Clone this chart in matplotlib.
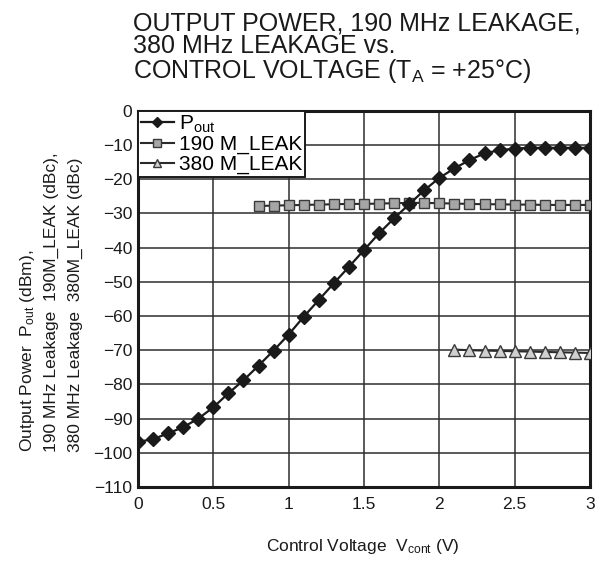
import matplotlib.pyplot as plt

plt.rcParams['font.family'] = ['Liberation Sans', 'DejaVu Sans']
plt.rcParams['mathtext.fontset'] = 'custom'
plt.rcParams['mathtext.rm'] = 'Liberation Sans'
plt.rcParams['mathtext.it'] = 'Liberation Sans'

# Output power vs control voltage (0 .. 3 V, 0.1 V steps)
v_pout = [0.0, 0.1, 0.2, 0.3, 0.4, 0.5, 0.6, 0.7, 0.8, 0.9, 1.0,
          1.1, 1.2, 1.3, 1.4, 1.5, 1.6, 1.7, 1.8, 1.9, 2.0,
          2.1, 2.2, 2.3, 2.4, 2.5, 2.6, 2.7, 2.8, 2.9, 3.0]
pout = [-96.8, -96.0, -94.3, -92.5, -90.0, -86.7, -82.6, -78.8, -74.5, -70.1, -65.4,
        -60.2, -55.3, -50.4, -45.6, -40.7, -35.8, -31.4, -27.3, -23.2, -19.6,
        -16.8, -14.4, -12.4, -11.5, -11.0, -10.8, -10.8, -10.8, -10.8, -10.8]

# 190 MHz leakage (0.8 .. 3 V)
v_190 = [0.8, 0.9, 1.0, 1.1, 1.2, 1.3, 1.4, 1.5, 1.6, 1.7, 1.8, 1.9,
         2.0, 2.1, 2.2, 2.3, 2.4, 2.5, 2.6, 2.7, 2.8, 2.9, 3.0]
leak_190 = [-27.8, -27.7, -27.6, -27.5, -27.4, -27.3, -27.2, -27.2, -27.1, -27.0, -26.9, -26.9,
            -27.0, -27.1, -27.2, -27.3, -27.3, -27.4, -27.4, -27.5, -27.5, -27.5, -27.5]

# 380 MHz leakage (2.1 .. 3 V)
v_380 = [2.1, 2.2, 2.3, 2.4, 2.5, 2.6, 2.7, 2.8, 2.9, 3.0]
leak_380 = [-69.8, -70.0, -70.1, -70.2, -70.3, -70.4, -70.5, -70.6, -70.7, -70.8]

x_ticks = [0, 0.5, 1, 1.5, 2, 2.5, 3]
x_labels = ['0', '0.5', '1', '1.5', '2', '2.5', '3']
y_ticks = [0, -10, -20, -30, -40, -50, -60, -70, -80, -90, -100, -110]

fig = plt.figure(figsize=(6.0, 5.63), dpi=100)
ax = fig.add_axes([0.23, 0.135, 0.7533, 0.668])

ax.plot(v_pout, pout, color='#1a1a1a', lw=1.6, marker='D', ms=7,
        mfc='#1a1a1a', mec='#1a1a1a', label=r'P$_{\mathregular{out}}$', zorder=4)
ax.plot(v_190, leak_190, color='#2a2a2a', lw=1.5, marker='s', ms=7.5,
        mfc='#a6a6a6', mec='#3a3a3a', mew=1.0, label='190 M_LEAK', zorder=3)
ax.plot(v_380, leak_380, color='#2a2a2a', lw=1.5, marker='^', ms=8,
        mfc='#cfcfcf', mec='#3a3a3a', mew=1.0, label='380 M_LEAK', zorder=3)

ax.set_xlim(0, 3)
ax.set_ylim(-110, 0)
ax.set_xticks(x_ticks)
ax.set_xticklabels(x_labels)
ax.set_yticks(y_ticks)
ax.set_yticklabels([str(t).replace('-', '\u2212') for t in y_ticks])
ax.tick_params(length=0, labelsize=12.5, pad=4, colors='#1a1a1a')
ax.tick_params(axis='x', pad=7)

ax.grid(True, color='#2e2e2e', lw=1.1)
ax.set_axisbelow(True)
for s in ax.spines.values():
    s.set_linewidth(2.2)
    s.set_color('#1a1a1a')

leg = ax.legend(loc='upper left', fontsize=15, frameon=True, fancybox=False,
                borderaxespad=0, borderpad=0.12, labelspacing=0.02,
                handlelength=1.6, handletextpad=0.25, markerscale=0.72)
leg.get_frame().set_edgecolor('#1a1a1a')
leg.get_frame().set_linewidth(1.4)
leg.get_frame().set_alpha(1)

# title
fig.text(133 / 600, 1 - 11 / 563,
         'OUTPUT POWER, 190 MHz LEAKAGE,\n380 MHz LEAKAGE vs.\n'
         r'CONTROL VOLTAGE (T$_{\mathregular{A}}$ = +25°C)',
         ha='left', va='top', fontsize=18, linespacing=0.95, color='#1a1a1a')

# y-axis label, three rotated lines
ylines = [r'Output Power  P$_{\mathregular{out}}$ (dBm),',
          '190 MHz Leakage  190M_LEAK (dBc),',
          '380 MHz Leakage  380M_LEAK (dBc)']
for i, t in enumerate(ylines):
    fig.text((32 + 24 * i) / 600, 1 - 452 / 563, t, rotation=90,
             rotation_mode='anchor', ha='left', va='baseline',
             fontsize=12.5, color='#1a1a1a')

fig.text(363 / 600, 1 - 547 / 563, r'Control Voltage  V$_{\mathregular{cont}}$ (V)',
         ha='center', va='center', fontsize=12.5, color='#1a1a1a')

fig.savefig('out.png', dpi=100)
